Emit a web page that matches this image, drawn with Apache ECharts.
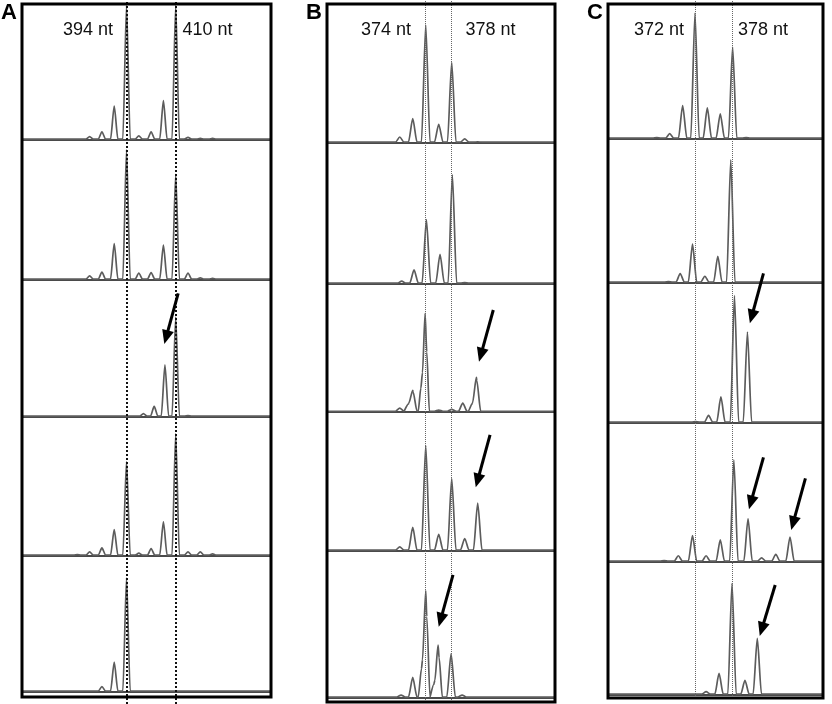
<!DOCTYPE html>
<html>
<head>
<meta charset="utf-8">
<script src="https://cdn.jsdelivr.net/npm/echarts@6/dist/echarts.min.js"></script>
<style>
  html, body { margin: 0; padding: 0; background: #fff; }
  #chart { width: 832px; height: 704px; }
</style>
</head>
<body>
<div id="chart"></div>
<script>
// fragment sizes marked by the dotted guides (nt)
const markersA = [394, 410];
const markersB = [374, 378];
const markersC = [372, 378];

// peaks per lane, top to bottom: [size in nt, height as share of the lane]
const peaksA1 = [[382, 0.025], [386, 0.06], [390, 0.25], [394, 0.99], [398, 0.03], [402, 0.06], [406, 0.29], [410, 0.99], [414, 0.02], [418, 0.012], [422, 0.012]];
const peaksA2 = [[382, 0.03], [386, 0.057], [390, 0.26], [394, 0.93], [398, 0.05], [402, 0.053], [406, 0.25], [410, 0.755], [414, 0.05], [418, 0.015], [422, 0.012]];
const peaksA3 = [[399.5, 0.025], [403, 0.077], [406.5, 0.38], [410, 0.73], [414, 0.01]];
const peaksA4 = [[378, 0.01], [382, 0.03], [386, 0.058], [390, 0.19], [394, 0.68], [398, 0.02], [402, 0.053], [406, 0.246], [410, 0.88], [414, 0.03], [418, 0.03], [422, 0.015]];
const peaksA5 = [[386, 0.04], [390, 0.22], [394, 0.84]];

const peaksB1 = [[370, 0.043], [372, 0.175], [374, 0.85], [376, 0.135], [378, 0.58], [380, 0.03], [382, 0.008]];
const peaksB2 = [[370.3, 0.02], [372.2, 0.1], [374.1, 0.456], [376.2, 0.21], [378.1, 0.775], [380, 0.01]];
const peaksB3 = [[370, 0.03], [371.4, 0.07], [372, 0.17], [373.5, 0.3], [373.9, 0.77], [376, 0.015], [378, 0.02], [379.7, 0.07], [381.2, 0.07], [381.8, 0.27]];
const peaksB4 = [[370, 0.03], [372, 0.17], [374, 0.76], [376, 0.12], [378, 0.52], [380, 0.09], [382, 0.345]];
const peaksB5 = [[370.2, 0.02], [372, 0.14], [373.5, 0.26], [374, 0.73], [375.4, 0.12], [375.9, 0.36], [377.9, 0.3], [379.6, 0.02]];

const peaksC1 = [[365.7, 0.01], [367.8, 0.04], [369.9, 0.247], [371.9, 0.933], [373.9, 0.23], [376, 0.187], [378, 0.68], [380.2, 0.01]];
const peaksC2 = [[367.6, 0.01], [369.5, 0.065], [371.5, 0.27], [373.5, 0.047], [375.6, 0.185], [377.7, 0.856]];
const peaksC3 = [[372, 0.01], [374.1, 0.055], [376.1, 0.186], [378.3, 0.91], [380.4, 0.65]];
const peaksC4 = [[366.9, 0.01], [369.2, 0.045], [371.5, 0.19], [373.7, 0.045], [376, 0.16], [378.2, 0.735], [380.5, 0.31], [382.7, 0.03], [385, 0.055], [387.3, 0.18]];
const peaksC5 = [[373.7, 0.025], [375.8, 0.163], [377.9, 0.84], [380, 0.11], [382, 0.426]];

// arrows: [lane, tail nt, tail height, tip nt, tip height]
const arrowsA = [[2, 410.8, 0.903, 406.3, 0.533]];
const arrowsB = [[2, 384.4, 0.797, 382.2, 0.393], [3, 383.9, 0.835, 381.7, 0.458], [4, 378.2, 0.837, 376.0, 0.485]];
const arrowsC = [[2, 383.0, 1.069, 380.8, 0.712], [3, 383.0, 0.753, 380.65, 0.379], [3, 389.8, 0.602, 387.5, 0.23], [4, 384.9, 0.827, 382.4, 0.444]];

const BASE = 0.006;
const FONT = '"Liberation Sans", Arial, sans-serif';

const panels = [
  {
    letter: 'A', letterX: 1, markers: markersA, arrows: arrowsA,
    lanes: [peaksA1, peaksA2, peaksA3, peaksA4, peaksA5],
    xMin: 360, xMax: 441, half: 1.2,
    left: 22, right: 271, frameBottom: 697, guideBottom: 704,
    laneTops: [4, 140, 280, 417, 556], laneBase: [140, 280, 417, 556, 692],
    labelX: [88, 207.5],
    guide: { color: '#111', width: 2, type: [2, 2] }
  },
  {
    letter: 'B', letterX: 306, markers: markersB, arrows: arrowsB,
    lanes: [peaksB1, peaksB2, peaksB3, peaksB4, peaksB5],
    xMin: 358.8, xMax: 393.9, half: 0.66,
    left: 327, right: 555, frameBottom: 702, guideBottom: 700,
    laneTops: [4, 143, 284, 412, 551], laneBase: [143, 284, 412, 551, 698],
    labelX: [386, 490.5],
    guide: { color: '#666', width: 1, type: [1, 1] }
  },
  {
    letter: 'C', letterX: 587, markers: markersC, arrows: arrowsC,
    lanes: [peaksC1, peaksC2, peaksC3, peaksC4, peaksC5],
    xMin: 357.8, xMax: 392.65, half: 0.68,
    left: 608, right: 823, frameBottom: 698, guideBottom: 698,
    laneTops: [4, 139, 283, 423, 562], laneBase: [139, 283, 423, 562, 695],
    labelX: [659, 763],
    guide: { color: '#666', width: 1, type: [1, 1] }
  }
];

// piecewise trace: each peak is a narrow spike on a flat baseline
function trace(peaks, half, xMin, xMax) {
  const xs = [xMin, xMax];
  peaks.forEach(([x]) => xs.push(x - half, x, x + half));
  xs.sort((a, b) => a - b);
  return xs.map(x => {
    let y = BASE;
    peaks.forEach(([px, h]) => {
      const d = Math.abs(x - px);
      if (d < half) y = Math.max(y, BASE + (h - BASE) * (1 - d / half));
    });
    return [x, y];
  });
}

const chart = echarts.init(document.getElementById('chart'), null, { renderer: 'canvas' });

const grids = [], xAxes = [], yAxes = [], series = [];
panels.forEach(p => {
  p.laneGrid = [];
  const gi = grids.length;
  grids.push({ left: p.left, width: p.right - p.left, top: 0, height: p.guideBottom });
  xAxes.push({ gridIndex: gi, type: 'value', min: p.xMin, max: p.xMax, show: false });
  yAxes.push({ gridIndex: gi, type: 'value', min: 0, max: 1, show: false });
  series.push({
    type: 'line', xAxisIndex: gi, yAxisIndex: gi, data: [], silent: true, z: 6,
    markLine: {
      silent: true, symbol: ['none', 'none'], label: { show: false },
      lineStyle: p.guide, emphasis: { disabled: true },
      data: p.markers.map(m => ({ xAxis: m }))
    }
  });

  p.lanes.forEach((peaks, i) => {
    const g = grids.length;
    p.laneGrid.push(g);
    grids.push({ left: p.left, width: p.right - p.left, top: p.laneTops[i], height: p.laneBase[i] - p.laneTops[i] });
    xAxes.push({
      gridIndex: g, type: 'value', min: p.xMin, max: p.xMax,
      axisLine: { show: true, onZero: false, lineStyle: { color: '#4a4a4a', width: 2.2 } },
      axisTick: { show: false }, axisLabel: { show: false }, splitLine: { show: false }
    });
    yAxes.push({ gridIndex: g, type: 'value', min: 0, max: 1, show: false });
    series.push({
      type: 'line', xAxisIndex: g, yAxisIndex: g, z: 4,
      data: trace(peaks, p.half, p.xMin, p.xMax),
      showSymbol: false, silent: true,
      smooth: 0.25, smoothMonotone: 'x',
      lineStyle: { color: '#5c5c5c', width: 1.7 }
    });
  });
});

chart.setOption({
  animation: false,
  grid: grids,
  xAxis: xAxes,
  yAxis: yAxes,
  series
});

// frames, texts and arrows on top
const graphic = [];
panels.forEach(p => {
  graphic.push({
    type: 'rect', z: 20, silent: true,
    shape: { x: p.left, y: p.laneTops[0], width: p.right - p.left, height: p.frameBottom - p.laneTops[0] },
    style: { fill: null, stroke: '#000', lineWidth: 3 }
  });
  graphic.push({
    type: 'text', z: 20, left: p.letterX, top: 2,
    style: { text: p.letter, font: 'bold 22px ' + FONT, fill: '#000' }
  });
  p.markers.forEach((m, k) => {
    graphic.push({
      type: 'text', z: 20, x: p.labelX[k], y: 30,
      style: { text: m + ' nt', font: '18px ' + FONT, fill: '#111', align: 'center', verticalAlign: 'middle' }
    });
  });
  p.arrows.forEach(([lane, tx, ty, hx, hy]) => {
    const g = p.laneGrid[lane];
    const [x1, y1] = chart.convertToPixel({ gridIndex: g }, [tx, ty]);
    const [x2, y2] = chart.convertToPixel({ gridIndex: g }, [hx, hy]);
    const len = Math.hypot(x2 - x1, y2 - y1);
    const dx = (x2 - x1) / len, dy = (y2 - y1) / len;
    const headLen = 14, headHalf = 6;
    const bx = x2 - dx * headLen, by = y2 - dy * headLen;
    graphic.push({
      type: 'line', z: 21, silent: true,
      shape: { x1, y1, x2: bx + dx * 2, y2: by + dy * 2 },
      style: { stroke: '#000', lineWidth: 3 }
    });
    graphic.push({
      type: 'polygon', z: 21, silent: true,
      shape: { points: [[x2, y2], [bx - dy * headHalf, by + dx * headHalf], [bx + dy * headHalf, by - dx * headHalf]] },
      style: { fill: '#000' }
    });
  });
});
chart.setOption({ graphic });
</script>
</body>
</html>
